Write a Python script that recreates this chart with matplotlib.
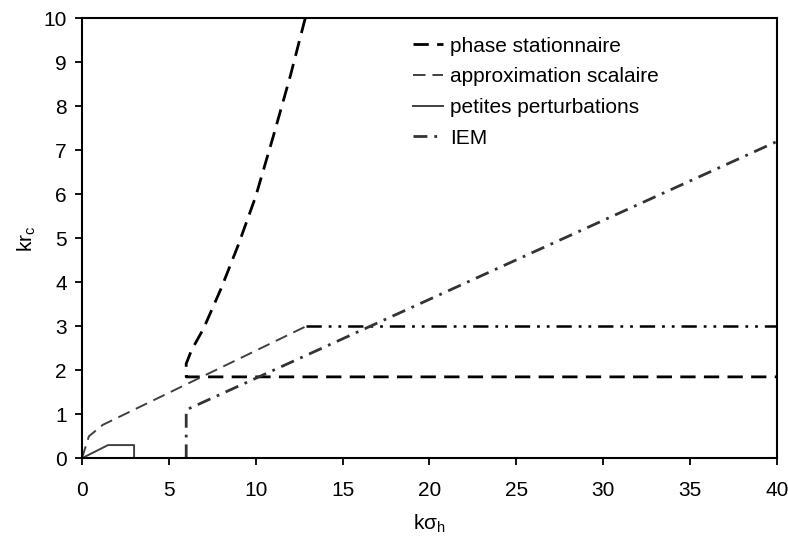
import matplotlib
matplotlib.use("Agg")
import matplotlib.pyplot as plt

plt.rcParams["font.family"] = ["Liberation Sans", "DejaVu Sans"]
plt.rcParams["lines.scale_dashes"] = False

# phase stationnaire
ps_x = [12.85, 12.0, 11.0, 10.0, 9.0, 8.0, 7.0, 6.3, 6.0, 6.0, 40.0]
ps_y = [10.0, 8.7, 7.3, 5.95, 4.85, 3.85, 2.95, 2.45, 2.15, 1.85, 1.85]

# approximation scalaire
as_x = [0.0, 0.4, 1.2, 12.9]
as_y = [0.0, 0.5, 0.76, 3.0]
as_plat_x = [12.9, 40.0]
as_plat_y = [3.0, 3.0]

# petites perturbations
pp_x = [0.0, 1.5, 3.0, 3.0]
pp_y = [0.0, 0.3, 0.3, 0.0]

# IEM
iem_x = [6.0, 6.0, 40.0]
iem_y = [0.0, 1.1, 7.2]

fig = plt.figure(figsize=(7.88, 5.36), dpi=100)
ax = fig.add_axes([0.104, 0.145, 0.882, 0.821])

ax.plot(ps_x, ps_y, color="black", lw=2.0, linestyle=(0, (11, 6)),
        label="phase stationnaire")
ax.plot(as_x, as_y, color="#404040", lw=1.4, linestyle=(0, (9, 5)),
        label="approximation scalaire")
ax.plot(as_plat_x, as_plat_y, color="black", lw=1.8,
        linestyle=(0, (11, 5, 2, 5, 2, 5)))
ax.plot(pp_x, pp_y, color="#404040", lw=1.4, label="petites perturbations")
ax.plot(iem_x, iem_y, color="#333333", lw=2.0, linestyle=(0, (10, 5, 2, 5)),
        label="IEM")

ax.set_xlim(0, 40)
ax.set_ylim(0, 10)
ax.set_xticks(range(0, 41, 5))
ax.set_yticks(range(0, 11, 1))
ax.tick_params(direction="out", length=5, width=1.3, labelsize=15)
ax.tick_params(axis="x", pad=11)
ax.tick_params(axis="y", pad=6)
for s in ax.spines.values():
    s.set_linewidth(1.5)

ax.set_xlabel("kσ$_\\mathregular{h}$", fontsize=15, labelpad=9)
ax.set_ylabel("kr$_\\mathregular{c}$", fontsize=15, labelpad=4)

ax.legend(loc="upper left", bbox_to_anchor=(0.476, 0.958), frameon=False,
          fontsize=15, handlelength=1.45, handletextpad=0.35, labelspacing=0.56,
          borderpad=0, borderaxespad=0)

fig.savefig("out.png", dpi=100)
